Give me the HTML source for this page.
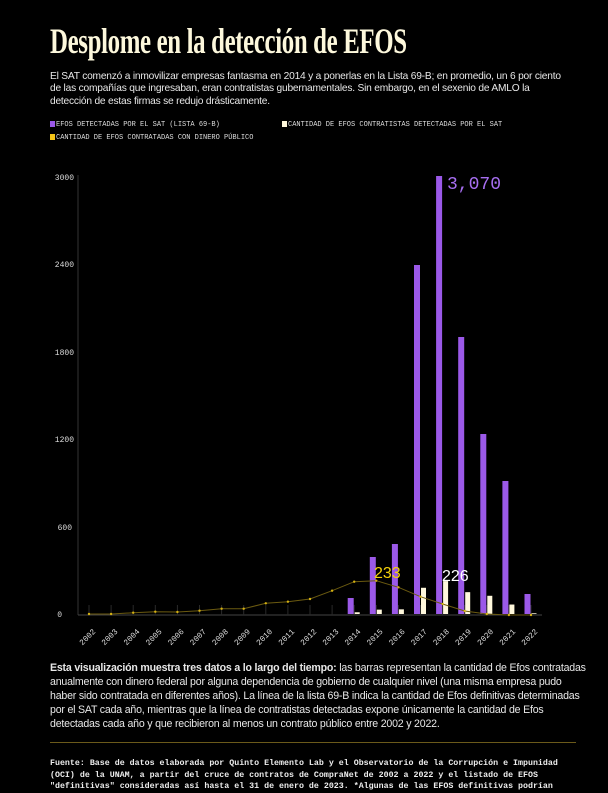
<!DOCTYPE html>
<html><head><meta charset="utf-8"><style>
body{margin:0;background:#000;width:608px;height:791px;overflow:hidden;position:relative;font-family:"Liberation Sans",sans-serif;color:#fff}
.t{position:absolute;left:50px;top:20px;font-family:"Liberation Serif",serif;font-weight:bold;font-size:36px;color:#fdf8dc;transform:scaleX(0.69);transform-origin:left top;white-space:nowrap;letter-spacing:-0.5px}
.p{position:absolute;left:50px;width:525px;font-size:10.2px;line-height:12.3px;color:#e8e8e8;letter-spacing:-0.2px}
.lg{position:absolute;font-family:"Liberation Mono",monospace;font-size:7px;color:#ddd;white-space:nowrap}
.sw{display:inline-block;width:5px;height:6px;margin-right:1px;vertical-align:-1px}
.f{position:absolute;left:50px;top:758px;width:520px;font-family:"Liberation Mono",monospace;font-weight:bold;font-size:8.3px;line-height:11.5px;color:#eee}
</style></head><body>
<div class="t">Desplome en la detección de EFOS</div>
<div class="p" style="top:71px">El SAT comenzó a inmovilizar empresas fantasma en 2014 y a ponerlas en la Lista 69-B; en promedio, un 6 por ciento<br>de las compañías que ingresaban, eran contratistas gubernamentales. Sin embargo, en el sexenio de AMLO la<br>detección de estas firmas se redujo drásticamente.</div>
<div class="lg" style="left:50px;top:121px"><span class="sw" style="background:#9b59e8"></span>EFOS DETECTADAS POR EL SAT (LISTA 69-B)</div>
<div class="lg" style="left:282px;top:121px"><span class="sw" style="background:#fff8dc"></span>CANTIDAD DE EFOS CONTRATISTAS DETECTADAS POR EL SAT</div>
<div class="lg" style="left:50px;top:134px"><span class="sw" style="background:#f5c518"></span>CANTIDAD DE EFOS CONTRATADAS CON DINERO PÚBLICO</div>
<svg style="position:absolute;left:0;top:0" width="608" height="660">
<g font-family="Liberation Mono,monospace" font-size="8" fill="#ddd" text-anchor="end">
<text x="74" y="180">3000</text><text x="74" y="267">2400</text><text x="74" y="355">1800</text><text x="74" y="442">1200</text><text x="72" y="530">600</text><text x="62" y="617">0</text>
</g>
<line x1="78" y1="175" x2="78" y2="615" stroke="#333" stroke-width="1"/>
<line x1="78" y1="615" x2="542" y2="615" stroke="#444" stroke-width="1"/>
<g id="g"></g>
<text x="447" y="189" font-family="Liberation Mono,monospace" font-size="18" fill="#a66ef0">3,070</text>
<text x="374" y="578" font-family="Liberation Sans,sans-serif" font-size="16" fill="#f5d20a">233</text>
<text x="442" y="581" font-family="Liberation Sans,sans-serif" font-size="16" fill="#fff">226</text>
</svg>
<script>
var g=document.getElementById('g'),s='';
var P=[0,0,0,0,0,0,0,0,0,0,0,0,598,557,544,265,176,337,434,481,594];
var W=[0,0,0,0,0,0,0,0,0,0,0,0,12,30,32,180,226,150,125,65,5];
var L=[614,614,612.7,611.7,612,610.7,608.7,608.7,603.3,601.7,599,590.7,581.7,580.7,587.3,596.7,604,611,614,615,615];
var k=437/3000,pts=[];
for(var i=0;i<21;i++){var x=89+22.1*i;
s+='<line x1="'+x+'" y1="605" x2="'+x+'" y2="615" stroke="#2a2a2a"/>';
if(P[i])s+='<rect x="'+(x-6.5)+'" y="'+P[i]+'" width="6" height="'+(614-P[i])+'" fill="#9b59e8"/>';
if(W[i])s+='<rect x="'+(x+0.5)+'" y="'+(614-W[i]*k)+'" width="5" height="'+(W[i]*k)+'" fill="#fff8dc"/>';
pts.push(x+','+L[i]);
s+='<text transform="translate('+(x+7)+',632) rotate(-45)" text-anchor="end" font-family="Liberation Mono,monospace" font-size="8" fill="#ddd">'+(2002+i)+'</text>';}
s+='<polyline points="'+pts.join(' ')+'" fill="none" stroke="#6b5a10" stroke-width="1"/>';
pts.forEach(function(p){var a=p.split(',');s+='<circle cx="'+a[0]+'" cy="'+a[1]+'" r="1.2" fill="#d4b012"/>';});
g.innerHTML=s;
</script>
<div class="p" style="top:661px;font-size:10.6px;line-height:14px;width:540px"><b>Esta visualización muestra tres datos a lo largo del tiempo:</b> las barras representan la cantidad de Efos contratadas<br>anualmente con dinero federal por alguna dependencia de gobierno de cualquier nivel (una misma empresa pudo<br>haber sido contratada en diferentes años). La línea de la lista 69-B indica la cantidad de Efos definitivas determinadas<br>por el SAT cada año, mientras que la línea de contratistas detectadas expone únicamente la cantidad de Efos<br>detectadas cada año y que recibieron al menos un contrato público entre 2002 y 2022.</div>
<div style="position:absolute;left:50px;top:742px;width:526px;height:1px;background:#6b5a1a"></div>
<div class="f">Fuente: Base de datos elaborada por Quinto Elemento Lab y el Observatorio de la Corrupción e Impunidad (OCI) de la UNAM, a partir del cruce de contratos de CompraNet de 2002 a 2022 y el listado de EFOS "definitivas" consideradas así hasta el 31 de enero de 2023. *Algunas de las EFOS definitivas podrían</div>
</body></html>
